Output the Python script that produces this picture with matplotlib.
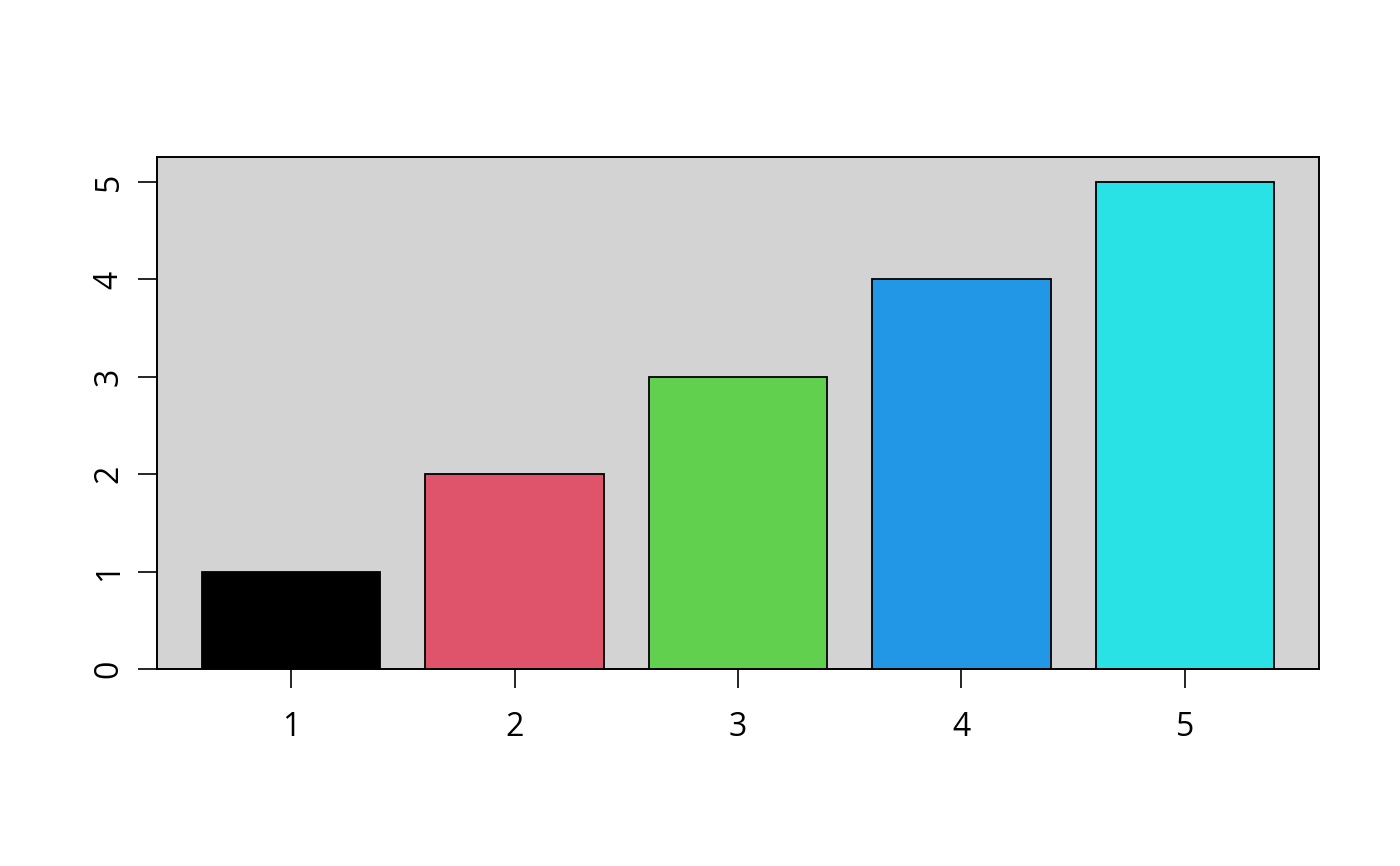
import matplotlib
matplotlib.use('Agg')
import matplotlib.pyplot as plt

# bar heights and colours (R default palette)
categories = [1, 2, 3, 4, 5]
values = [1, 2, 3, 4, 5]
bar_colors = ['#000000', '#DF536B', '#61D04F', '#2297E6', '#28E2E5']

plt.rcParams['font.family'] = ['Open Sans', 'DejaVu Sans']

fig = plt.figure(figsize=(14, 8.66), dpi=100)
ax = fig.add_axes([157/1400, 1 - 669/866, (1319 - 157)/1400, (669 - 157)/866])
ax.set_facecolor('#D3D3D3')

ax.bar(categories, values, width=0.8, color=bar_colors, edgecolor='black', linewidth=1.3, zorder=2)

ax.set_xlim(0.4, 5.6)
ax.set_ylim(0, 5.257)
ax.set_xticks(categories)
ax.set_xticklabels([str(c) for c in categories])
ax.set_yticks([0, 1, 2, 3, 4, 5])
ax.set_yticklabels(['0', '1', '2', '3', '4', '5'], rotation=90, va='center')

ax.tick_params(axis='both', direction='out', length=13.5, width=1.2, labelsize=23, color='black')
ax.tick_params(axis='x', pad=17)
ax.tick_params(axis='y', pad=9)

for sp in ax.spines.values():
    sp.set_linewidth(1.4)
    sp.set_color('black')

fig.savefig('out.png', dpi=100)
